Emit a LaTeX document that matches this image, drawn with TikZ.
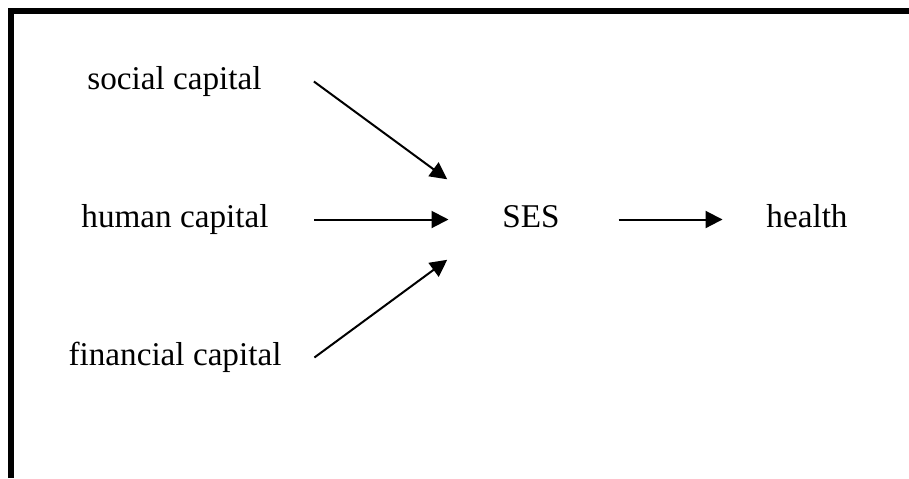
\documentclass[tikz,border=0pt]{standalone}
\usepackage{fontspec}
\setmainfont{Liberation Serif}
\usetikzlibrary{arrows.meta}

\begin{document}
\begin{tikzpicture}[x=0.5pt,y=-0.5pt,
    lbl/.style={inner sep=0pt, text height=11.4pt, text depth=3.6pt, font=\fontsize{16.6pt}{20pt}\selectfont},
    src/.style={lbl, minimum width=139pt},
    arr/.style={line width=1pt, -{Triangle[length=8.5pt,width=8.5pt]}}]
      \useasboundingbox (0,0) rectangle (909,478);

      % Draw the frame
      \draw[line width=3pt, line join=miter] (11.2,478) -- (11.2,11.2) -- (909,11.2);

      % Draw the labels
      \node[src] (social) at (174.5,81.5) {social capital};
      \node[src] (human) at (175,219.5) {human capital};
      \node[src] (financial) at (175,357.5) {financial capital};
      \node[lbl] (ses) at (531,219.5) {SES};
      \node[lbl] (health) at (807,219.5) {health};

      % Draw the arrows
      \draw[arr, shorten >=34pt] (social.east) -- (ses.west);
      \draw[arr, shorten >=26.75pt] (human.east) -- (ses.west);
      \draw[arr, shorten >=34pt] (financial.east) -- (ses.west);
      \draw[arr, shorten <=29.25pt, shorten >=21.75pt] (ses.east) -- (health.west);
    \end{tikzpicture}
\end{document}
